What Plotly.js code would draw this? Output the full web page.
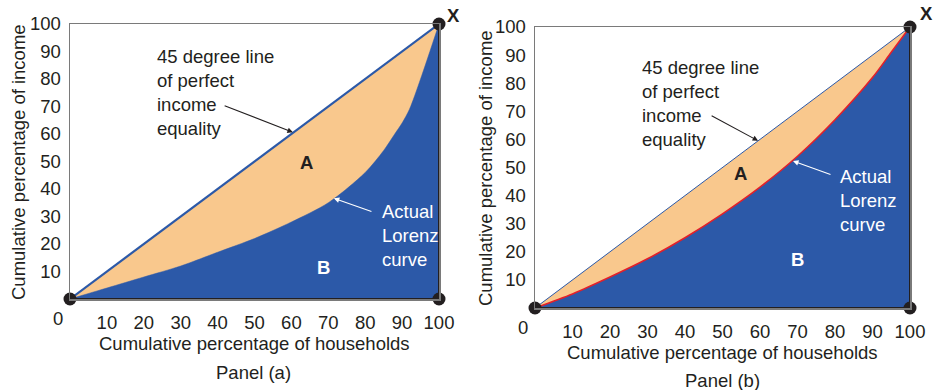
<!DOCTYPE html>
<html>
<head>
<meta charset="utf-8">
<script src="https://cdn.plot.ly/plotly-3.0.1.min.js"></script>
<style>html,body{margin:0;padding:0;background:#fff;}#chart{width:934px;height:390px;}</style>
</head>
<body>
<div id="chart"></div>
<script>
// ---- data ----
const tickVals = [10, 20, 30, 40, 50, 60, 70, 80, 90, 100];
const equalityX = [0, 100];
const equalityY = [0, 100];
const lorenzAX = [0, 10, 20, 30, 40, 50, 60, 70, 80, 85, 88, 90, 92, 95, 100];
const lorenzAY = [0, 4, 8, 12, 17, 22, 28, 35, 46, 54, 60, 64, 69, 80, 100];
const lorenzBX = [0, 10, 20, 30, 40, 50, 60, 70, 80, 90, 95, 100];
const lorenzBY = [0, 5, 11, 17.5, 25, 33.5, 43, 54, 67, 82, 91, 100];
const cornerX = [0, 100, 100];
const cornerY = [0, 0, 100];

const BLUE = '#2c59a8', ORANGE = '#f9c88d', DARK = '#231f20', RED = '#e3202a';
const FONT = 'Liberation Sans, Arial, sans-serif';
const FS = 18.5;

function panelTraces(xa, ya, lx, ly, isB) {
  const base = {xaxis: xa, yaxis: ya, hoverinfo: 'skip', showlegend: false};
  const tr = [];
  // orange area under the equality line
  tr.push(Object.assign({x: equalityX, y: equalityY, fill: 'tozeroy', fillcolor: ORANGE, mode: 'lines',
    line: {width: 0, color: ORANGE}}, base));
  // blue area under the Lorenz curve
  tr.push(Object.assign({x: lx, y: ly, fill: 'tozeroy', fillcolor: BLUE, mode: 'lines',
    line: isB ? {color: RED, width: 1.6, shape: 'spline', smoothing: 0.8}
              : {color: BLUE, width: 0.5, shape: 'spline', smoothing: 0.8}}, base));
  // equality line
  tr.push(Object.assign({x: equalityX, y: equalityY, mode: 'lines', line: {color: BLUE, width: isB ? 1 : 2.2},
    cliponaxis: false}, base));
  // dark edges (bottom and right)
  tr.push(Object.assign({x: cornerX, y: cornerY, mode: 'lines', line: {color: DARK, width: 2}, cliponaxis: false}, base));
  // corner dots
  tr.push(Object.assign({x: cornerX, y: cornerY, mode: 'markers', marker: {color: DARK, size: 13}, cliponaxis: false}, base));
  return tr;
}

const data = panelTraces('x', 'y', lorenzAX, lorenzAY, false)
  .concat(panelTraces('x2', 'y2', lorenzBX, lorenzBY, true));

function xAxis(domain, anchor) {
  return {domain: domain, anchor: anchor, range: [0, 100], tickvals: tickVals,
    ticks: 'outside', ticklen: 6, tickcolor: 'rgba(0,0,0,0)',
    showgrid: false, zeroline: false, showline: true, mirror: true, linecolor: '#7a7a7a', linewidth: 1.5,
    tickfont: {family: FONT, size: FS, color: DARK}, fixedrange: true};
}
function yAxis(domain, anchor) {
  return {domain: domain, anchor: anchor, range: [0, 100], tickvals: tickVals,
    ticks: 'outside', ticklen: 4, tickcolor: 'rgba(0,0,0,0)',
    showgrid: false, zeroline: false, showline: true, mirror: true, linecolor: '#7a7a7a', linewidth: 1.5,
    tickfont: {family: FONT, size: FS, color: DARK}, fixedrange: true};
}

const txt = (o) => Object.assign({showarrow: false, font: {family: FONT, size: FS, color: DARK}}, o);
const arrow = (o) => Object.assign({text: '', showarrow: true, arrowhead: 2, arrowsize: 1, arrowwidth: 1.1,
  arrowcolor: DARK, standoff: 0, startstandoff: 0}, o);
const WHITE = {family: FONT, size: FS, color: '#ffffff'};

const annotations = [
  // panel a
  txt({xref: 'x', yref: 'y', x: 0, y: 0, text: '0', xanchor: 'center', yanchor: 'middle', xshift: -12, yshift: -19}),
  txt({xref: 'x', yref: 'y', x: 100, y: 100, text: '<b>X</b>', xanchor: 'center', yanchor: 'middle', xshift: 14, yshift: 9}),
  txt({xref: 'x', yref: 'y', x: 23, y: 75, text: '45 degree line<br>of perfect<br>income<br>equality', xanchor: 'left', yanchor: 'middle', align: 'left'}),
  arrow({xref: 'x', yref: 'y', axref: 'x', ayref: 'y', x: 60.4, y: 60.6, ax: 41.5, ay: 70.5}),
  txt({xref: 'x', yref: 'y', x: 64.2, y: 49.5, text: '<b>A</b>'}),
  txt({xref: 'x', yref: 'y', x: 68.6, y: 11.3, text: '<b>B</b>', font: WHITE}),
  txt({xref: 'x', yref: 'y', x: 84, y: 23.1, text: 'Actual<br>Lorenz<br>curve', xanchor: 'left', yanchor: 'middle', align: 'left', font: WHITE}),
  arrow({xref: 'x', yref: 'y', axref: 'x', ayref: 'y', x: 71.5, y: 36.6, ax: 82.1, ay: 31.6, arrowcolor: '#ffffff'}),
  txt({xref: 'paper', yref: 'paper', x: 254 / 934, y: 1 - 343 / 390, text: 'Cumulative percentage of households', xanchor: 'center', yanchor: 'middle'}),
  txt({xref: 'paper', yref: 'paper', x: 253 / 934, y: 1 - 372 / 390, text: 'Panel (a)', xanchor: 'center', yanchor: 'middle'}),
  txt({xref: 'paper', yref: 'paper', x: 18 / 934, y: 1 - 162 / 390, text: 'Cumulative percentage of income', textangle: -90, xanchor: 'center', yanchor: 'middle'}),
  // panel b
  txt({xref: 'x2', yref: 'y2', x: 0, y: 0, text: '0', xanchor: 'center', yanchor: 'middle', xshift: -12, yshift: -19}),
  txt({xref: 'x2', yref: 'y2', x: 100, y: 100, text: '<b>X</b>', xanchor: 'center', yanchor: 'middle', xshift: 16, yshift: 13}),
  txt({xref: 'x2', yref: 'y2', x: 28, y: 72.8, text: '45 degree line<br>of perfect<br>income<br>equality', xanchor: 'left', yanchor: 'middle', align: 'left'}),
  arrow({xref: 'x2', yref: 'y2', axref: 'x2', ayref: 'y2', x: 59.5, y: 59.5, ax: 46.7, ay: 68.7}),
  txt({xref: 'x2', yref: 'y2', x: 54.7, y: 48, text: '<b>A</b>'}),
  txt({xref: 'x2', yref: 'y2', x: 70.1, y: 17.4, text: '<b>B</b>', font: WHITE}),
  txt({xref: 'x2', yref: 'y2', x: 80.8, y: 38.1, text: 'Actual<br>Lorenz<br>curve', xanchor: 'left', yanchor: 'middle', align: 'left', font: WHITE}),
  arrow({xref: 'x2', yref: 'y2', axref: 'x2', ayref: 'y2', x: 68.8, y: 52.3, ax: 79.2, ay: 47.3, arrowcolor: '#ffffff'}),
  txt({xref: 'paper', yref: 'paper', x: 722 / 934, y: 1 - 352 / 390, text: 'Cumulative percentage of households', xanchor: 'center', yanchor: 'middle'}),
  txt({xref: 'paper', yref: 'paper', x: 722 / 934, y: 1 - 380 / 390, text: 'Panel (b)', xanchor: 'center', yanchor: 'middle'}),
  txt({xref: 'paper', yref: 'paper', x: 485 / 934, y: 1 - 168 / 390, text: 'Cumulative percentage of income', textangle: -90, xanchor: 'center', yanchor: 'middle'})
];

const layout = {
  width: 934, height: 390,
  margin: {l: 0, r: 0, t: 0, b: 0},
  paper_bgcolor: '#ffffff', plot_bgcolor: '#ffffff',
  showlegend: false,
  font: {family: FONT, size: FS, color: DARK},
  xaxis: xAxis([70 / 934, 439 / 934], 'y'),
  yaxis: yAxis([1 - 299 / 390, 1 - 24 / 390], 'x'),
  xaxis2: xAxis([535 / 934, 910 / 934], 'y2'),
  yaxis2: yAxis([1 - 308 / 390, 1 - 27 / 390], 'x2'),
  annotations: annotations
};

Plotly.newPlot('chart', data, layout, {displayModeBar: false, staticPlot: true});
</script>
</body>
</html>
